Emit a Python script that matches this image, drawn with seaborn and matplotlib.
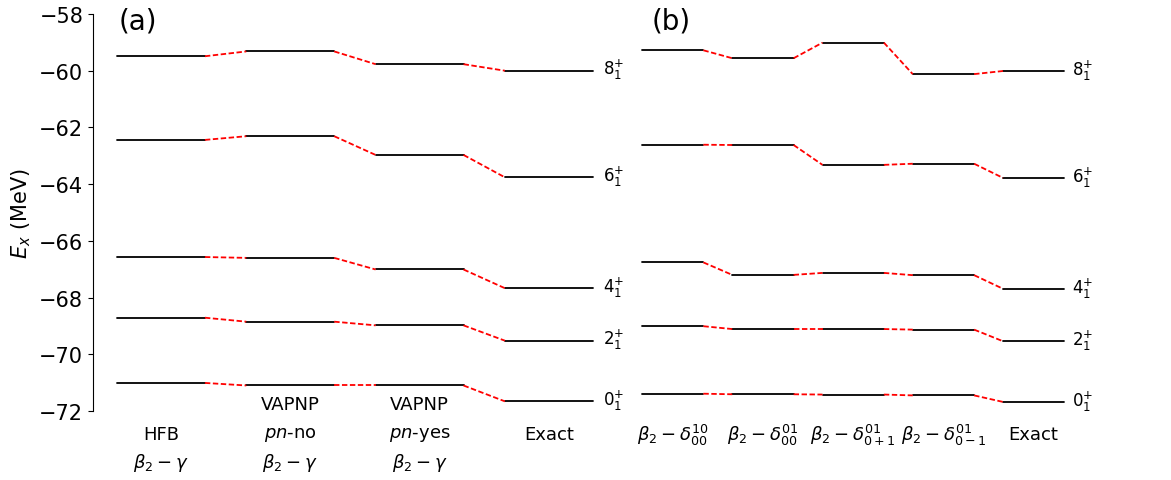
import numpy as np
import pandas as pd
import matplotlib
matplotlib.use("Agg")
import matplotlib.pyplot as plt
import seaborn as sns

# ---------------- data (energies in MeV, order: 0+, 2+, 4+, 6+, 8+) ----------------
state_labels = [r"$0_1^{+}$", r"$2_1^{+}$", r"$4_1^{+}$", r"$6_1^{+}$", r"$8_1^{+}$"]

# panel (a)
a_methods = ["HFB", "VAPNP pn-no", "VAPNP pn-yes", "Exact"]
a_hfb    = [-71.01, -68.71, -66.57, -62.44, -59.49]
a_pn_no  = [-71.10, -68.85, -66.60, -62.31, -59.32]
a_pn_yes = [-71.10, -68.98, -67.01, -62.97, -59.77]
a_exact  = [-71.66, -69.52, -67.67, -63.76, -60.00]
a_texts = [
    ["", r"HFB", r"$\beta_2-\gamma$"],
    [r"VAPNP", r"$pn$-no", r"$\beta_2-\gamma$"],
    [r"VAPNP", r"$pn$-yes", r"$\beta_2-\gamma$"],
    ["", r"Exact", ""],
]

# panel (b)
b_methods = ["b2-d00-10", "b2-d00-01", "b2-d0+1-01", "b2-d0-1-01", "Exact"]
b_d00_10  = [-71.39, -69.01, -66.76, -62.61, -59.28]
b_d00_01  = [-71.41, -69.11, -67.20, -62.62, -59.56]
b_d0p1_01 = [-71.42, -69.11, -67.13, -63.32, -59.01]
b_d0m1_01 = [-71.45, -69.13, -67.21, -63.28, -60.12]
b_exact   = [-71.68, -69.54, -67.69, -63.78, -60.01]
b_texts = [
    r"$\beta_2-\delta_{00}^{10}$",
    r"$\beta_2-\delta_{00}^{01}$",
    r"$\beta_2-\delta_{0+1}^{01}$",
    r"$\beta_2-\delta_{0-1}^{01}$",
    r"Exact",
]

yticks = [-72, -70, -68, -66, -64, -62, -60, -58]

# ---------------- style ----------------
sns.set_style("ticks", {"axes.edgecolor": "black", "text.color": "black",
                        "xtick.color": "black", "ytick.color": "black",
                        "axes.labelcolor": "black"})
plt.rcParams["font.family"] = ["DejaVu Sans"]
plt.rcParams["mathtext.fontset"] = "dejavusans"

W = 0.68  # level width in column units


def build_segments(columns):
    rows = []
    n = len(columns)
    for s in range(len(columns[0])):
        for i in range(n):
            v = columns[i][s]
            rows.append(dict(x=i, y=v, seg=f"L{s}_{i}", kind="level"))
            rows.append(dict(x=i + W, y=v, seg=f"L{s}_{i}", kind="level"))
            if i < n - 1:
                v2 = columns[i + 1][s]
                rows.append(dict(x=i + W, y=v, seg=f"C{s}_{i}", kind="link"))
                rows.append(dict(x=i + 1, y=v2, seg=f"C{s}_{i}", kind="link"))
    return pd.DataFrame(rows)


def draw(ax, columns):
    df = build_segments(columns)
    sns.lineplot(data=df, x="x", y="y", units="seg", estimator=None,
                 hue="kind", style="kind",
                 palette={"level": "black", "link": "red"},
                 dashes={"level": "", "link": (3.0, 1.4)},
                 sort=False, legend=False, lw=1.3, ax=ax)
    n = len(columns)
    for s, lab in enumerate(state_labels):
        ax.text(n - 1 + W + 0.08, columns[-1][s] + 0.05, lab, fontsize=12,
                ha="left", va="center", clip_on=False)


fig = plt.figure(figsize=(11.71, 4.81), dpi=100)
ax_a = fig.add_axes([93 / 1171, 69 / 481, (630 - 93) / 1171, 397 / 481])
ax_b = fig.add_axes([635 / 1171, 69 / 481, (1171 - 635) / 1171, 397 / 481])

draw(ax_a, [a_hfb, a_pn_no, a_pn_yes, a_exact])
draw(ax_b, [b_d00_10, b_d00_01, b_d0p1_01, b_d0m1_01, b_exact])

for ax in (ax_a, ax_b):
    ax.set_ylim(-72, -58)
    ax.set_xlabel("")
    ax.set_ylabel("")
    ax.set_xticks([])

ax_a.set_xlim(-(117 - 93) / 129.3, (630 - 117) / 129.3)
ax_b.set_xlim((635 - 642) / 90.25, (1171 - 642) / 90.25)

# panel a axes
sns.despine(ax=ax_a, top=True, right=True, bottom=True, left=False)
ax_a.set_yticks(yticks)
ax_a.tick_params(axis="y", labelsize=15, direction="out", length=3.5, width=0.8)
ax_a.set_ylabel(r"$E_x$ (MeV)", fontsize=15)

# panel b axes: nothing visible
sns.despine(ax=ax_b, top=True, right=True, bottom=True, left=True)
ax_b.set_yticks([])

# panel tags
ax_a.text(0.01, -58.22, "(a)", fontsize=20, ha="left", va="center")
ax_b.text(0.11, -58.22, "(b)", fontsize=20, ha="left", va="center")

# bottom method labels
line_y = [-71.75, -72.81, -73.80]
for i, lines in enumerate(a_texts):
    for t, yy in zip(lines, line_y):
        if t:
            ax_a.text(i + W / 2, yy, t, fontsize=13, ha="center", va="center",
                      clip_on=False)
for i, t in enumerate(b_texts):
    ax_b.text(i + W / 2, line_y[1], t, fontsize=13, ha="center", va="center",
              clip_on=False)

fig.savefig("out.png", dpi=100)
